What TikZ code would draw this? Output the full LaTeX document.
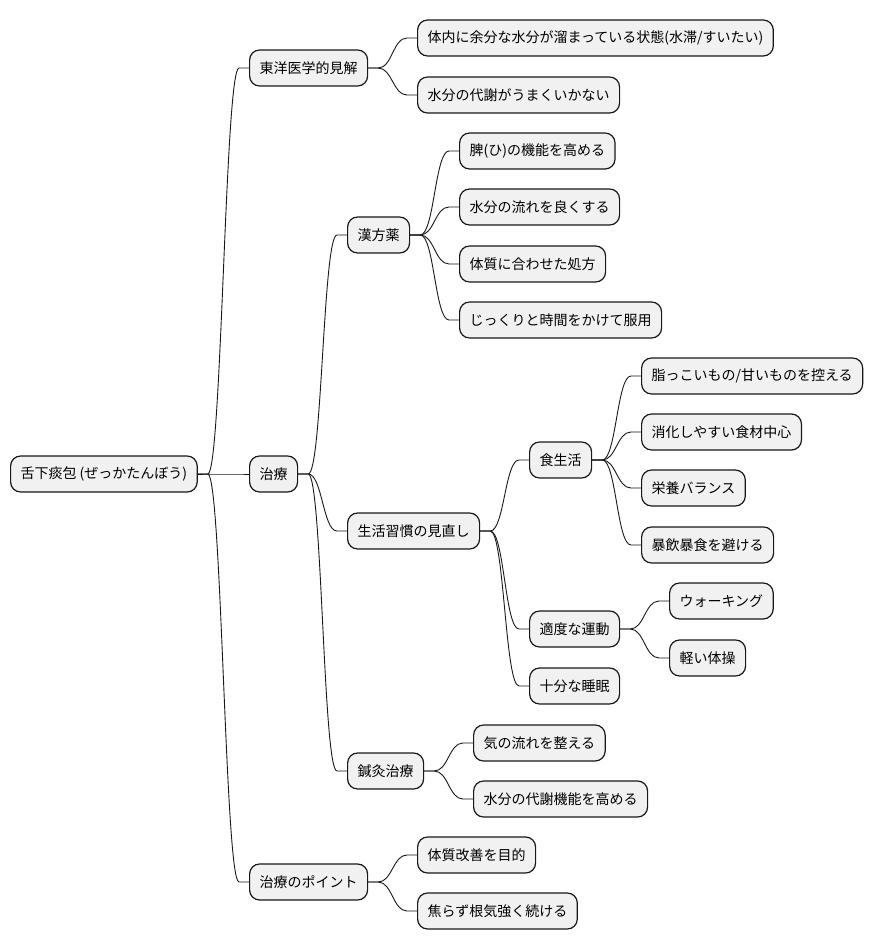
\documentclass[tikz,border=0pt]{standalone}
\usepackage{fontspec}
\newfontfamily\jp{Noto Sans CJK JP}
\definecolor{boxfill}{HTML}{F1F1F1}
\definecolor{boxline}{HTML}{181818}
\tikzset{
  box/.style={draw=boxline, fill=boxfill, line width=1.2pt, rounded corners=10pt,
    minimum height=36pt, inner xsep=10pt, inner ysep=0pt, anchor=west,
    font=\jp\fontsize{14}{16}\selectfont, text=black},
  edge/.style={draw=boxline, line width=0.9pt}
}
\newcommand\edge[2]{\draw[edge] (#1.east) -- ([xshift=10pt]#1.east) .. controls ([xshift=24pt]#1.east) and ([xshift=-24pt]#2.west) .. ([xshift=-10pt]#2.west) -- (#2.west);}
\begin{document}
\begin{tikzpicture}[x=1pt,y=-1pt]
\useasboundingbox (0,0) rectangle (873,949);
\node[box] (root) at (10,474) {舌下痰包 (ぜっかたんぼう)};
\node[box] (a) at (249,68) {東洋医学的見解};
\node[box] (b) at (249,474) {治療};
\node[box] (c) at (249,882) {治療のポイント};
\node[box] (a1) at (417,38) {体内に余分な水分が溜まっている状態(水滞/すいたい)};
\node[box] (a2) at (417,95) {水分の代謝がうまくいかない};
\node[box] (b1) at (347,235) {漢方薬};
\node[box] (b2) at (347,531) {生活習慣の見直し};
\node[box] (b3) at (347,771) {鍼灸治療};
\node[box] (b11) at (459,151) {脾(ひ)の機能を高める};
\node[box] (b12) at (459,207) {水分の流れを良くする};
\node[box] (b13) at (459,264) {体質に合わせた処方};
\node[box] (b14) at (459,320) {じっくりと時間をかけて服用};
\node[box] (b21) at (529,460) {食生活};
\node[box] (b22) at (529,629) {適度な運動};
\node[box] (b23) at (529,686) {十分な睡眠};
\node[box] (b211) at (641,376) {脂っこいもの/甘いものを控える};
\node[box] (b212) at (641,432) {消化しやすい食材中心};
\node[box] (b213) at (641,488) {栄養バランス};
\node[box] (b214) at (641,545) {暴飲暴食を避ける};
\node[box] (b221) at (669,601) {ウォーキング};
\node[box] (b222) at (669,658) {軽い体操};
\node[box] (b31) at (473,743) {気の流れを整える};
\node[box] (b32) at (473,799) {水分の代謝機能を高める};
\node[box] (c1) at (417,855) {体質改善を目的};
\node[box] (c2) at (417,911) {焦らず根気強く続ける};
\edge{root}{a}\edge{root}{b}\edge{root}{c}
\edge{a}{a1}\edge{a}{a2}
\edge{b}{b1}\edge{b}{b2}\edge{b}{b3}
\edge{b1}{b11}\edge{b1}{b12}\edge{b1}{b13}\edge{b1}{b14}
\edge{b2}{b21}\edge{b2}{b22}\edge{b2}{b23}
\edge{b21}{b211}\edge{b21}{b212}\edge{b21}{b213}\edge{b21}{b214}
\edge{b22}{b221}\edge{b22}{b222}
\edge{b3}{b31}\edge{b3}{b32}
\edge{c}{c1}\edge{c}{c2}
\end{tikzpicture}
\end{document}
